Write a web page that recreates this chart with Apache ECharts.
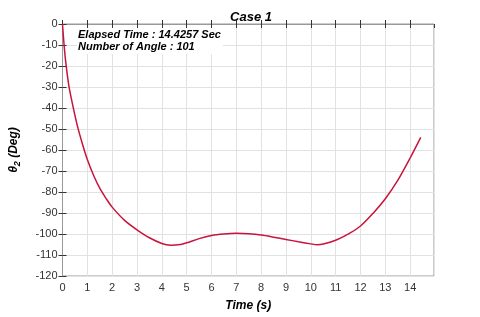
<!DOCTYPE html>
<html><head><meta charset="utf-8">
<script src="https://cdn.jsdelivr.net/npm/echarts@6/dist/echarts.min.js"></script>
<style>html,body{margin:0;padding:0;background:#fff}#c{width:480px;height:317px}</style>
</head><body><div id="c"></div>
<script>
var timeValues = [0, 0.05, 0.12, 0.25, 0.4, 0.6, 0.8, 1.0, 1.25, 1.5, 1.75, 2, 2.5, 3, 3.5, 4, 4.35, 4.75, 5, 5.5, 6, 6.5, 7, 7.5, 8, 8.5, 9, 9.5, 10, 10.25, 10.5, 11, 11.5, 12, 12.5, 13, 13.5, 14, 14.4257];
var thetaValues = [0, -8, -17, -29, -38, -48.5, -57, -64.5, -72, -78.2, -83, -87.2, -93.5, -98, -101.8, -104.5, -105.3, -105, -104.2, -102.2, -100.7, -100, -99.7, -99.9, -100.5, -101.5, -102.6, -103.7, -104.7, -105.1, -104.8, -103, -100.1, -96.2, -90.2, -83.2, -74.5, -63.8, -54];
var xTicks = [0,1,2,3,4,5,6,7,8,9,10,11,12,13,14];
var yTicks = [0,-10,-20,-30,-40,-50,-60,-70,-80,-90,-100,-110,-120];
var titleText = 'Case 1';
var infoLines = ['Elapsed Time : 14.4257 Sec', 'Number of Angle : 101'];

var pts = timeValues.map(function(t,i){return [t, thetaValues[i]];});
var font = 'Liberation Sans, Arial, sans-serif';
var chart = echarts.init(document.getElementById('c'));
var xMax = 14.96;
chart.setOption({
  animation: false,
  backgroundColor: '#fff',
  title: {text: titleText, left: 246, top: 6, textAlign: 'center',
    textStyle: {fontFamily: font, fontSize: 13, fontWeight: 'bold', fontStyle: 'italic', color: '#000'}},
  grid: {left: 62, right: 46, top: 24, bottom: 35, show: true, borderColor: '#999', borderWidth: 1},
  xAxis: [{
    type: 'value', min: 0, max: xMax, interval: 1,
    name: 'Time (s)', nameLocation: 'middle', nameGap: 24,
    nameTextStyle: {fontFamily: font, fontSize: 12, fontWeight: 'bold', fontStyle: 'italic', color: '#000'},
    axisLine: {show: true, lineStyle: {color: '#333'}},
    axisTick: {inside: true, length: 4, lineStyle: {color: '#333'}},
    axisLabel: {showMaxLabel: false, fontFamily: font, fontSize: 11, color: '#333', margin: 6,
      formatter: function(v){return xTicks.indexOf(v) >= 0 ? String(v) : '';}},
    splitLine: {show: true, lineStyle: {color: '#e2e2e2', width: 1}}
  },{
    type: 'value', min: 0, max: xMax, interval: 1, position: 'top',
    axisLine: {show: true, lineStyle: {color: '#999'}},
    axisTick: {inside: true, length: 4, lineStyle: {color: '#333'}},
    axisLabel: {show: false}, splitLine: {show: false}
  }],
  yAxis: [{
    type: 'value', min: -120, max: 0, interval: 10,
    name: '{a|θ}{s|2}{a| (Deg)}', nameLocation: 'middle', nameGap: 40, nameRotate: 90,
    nameTextStyle: {rich: {
      a: {fontFamily: font, fontSize: 12, fontWeight: 'bold', fontStyle: 'italic', color: '#000'},
      s: {fontFamily: font, fontSize: 9, fontWeight: 'bold', fontStyle: 'italic', color: '#000', verticalAlign: 'bottom', padding: [8,0,0,0]}
    }},
    axisLine: {show: true, lineStyle: {color: '#333'}},
    axisTick: {inside: true, length: 4, lineStyle: {color: '#333'}},
    axisLabel: {fontFamily: font, fontSize: 11, color: '#333', margin: 5,
      formatter: function(v){return yTicks.indexOf(v) >= 0 ? String(v) : '';}},
    splitLine: {show: true, lineStyle: {color: '#e2e2e2', width: 1}}
  },{
    type: 'value', min: -120, max: 0, interval: 10, position: 'right',
    axisLine: {show: true, lineStyle: {color: '#999'}},
    axisTick: {inside: true, length: 4, lineStyle: {color: '#333'}},
    axisLabel: {show: false}, splitLine: {show: false}
  }],
  graphic: [
    {type: 'text', left: 77, top: 28, z: 100, style: {
      text: infoLines.join('\n'), fontFamily: font, fontSize: 11, fontWeight: 'bold', fontStyle: 'italic',
      fill: '#000', lineHeight: 12, backgroundColor: '#fff', padding: [1, 2, 1, 1]}}
  ],
  series: [{
    type: 'line', data: pts, smooth: 0.3, showSymbol: false,
    lineStyle: {color: '#c8143c', width: 1.5}
  }]
});
</script></body></html>
